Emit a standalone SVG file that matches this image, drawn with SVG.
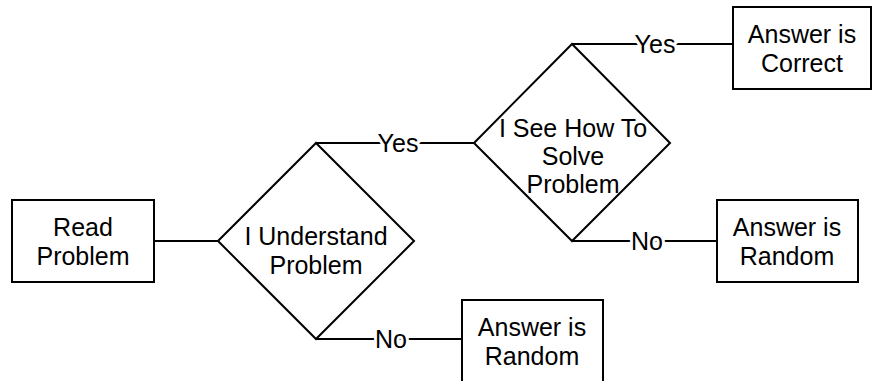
<svg xmlns="http://www.w3.org/2000/svg" width="873" height="381" viewBox="0 0 873 381">
<style>
.shape{fill:#fff;stroke:#000;stroke-width:2}
.conn{stroke:#000;stroke-width:2;fill:none}
text{font-family:"Liberation Sans",Arial,sans-serif;font-size:25px;fill:#000;text-anchor:middle}
.lbl{stroke:#fff;stroke-width:6;paint-order:stroke;stroke-linejoin:round}
</style>
<rect width="873" height="381" fill="#fff"/>
<g id="connectors">
<line class="conn" x1="154" y1="241" x2="218" y2="241"/>
<line class="conn" x1="316" y1="143" x2="474" y2="143"/>
<line class="conn" x1="572" y1="44" x2="733" y2="44"/>
<line class="conn" x1="572" y1="241" x2="717" y2="241"/>
<line class="conn" x1="316" y1="339" x2="462" y2="339"/>
<text class="lbl" x="398" y="152">Yes</text>
<text class="lbl" x="655" y="53">Yes</text>
<text class="lbl" x="647" y="250">No</text>
<text class="lbl" x="391" y="348">No</text>
</g>
<g id="read">
<rect class="shape" x="12" y="200" width="142" height="82"/>
<text x="83" y="236">Read</text>
<text x="83" y="265">Problem</text>
</g>
<g id="understand">
<polygon class="shape" points="218,241 316,143 414,241 316,339"/>
<text x="316" y="245">I Understand</text>
<text x="316" y="274">Problem</text>
</g>
<g id="seehow">
<polygon class="shape" points="474,143 572,44 670,143 572,241"/>
<text x="573" y="137">I See How To</text>
<text x="573" y="165">Solve</text>
<text x="573" y="193">Problem</text>
</g>
<g id="correct">
<rect class="shape" x="733" y="7" width="138" height="82"/>
<text x="802" y="43">Answer is</text>
<text x="802" y="72">Correct</text>
</g>
<g id="random1">
<rect class="shape" x="717" y="200" width="141" height="82"/>
<text x="787" y="236">Answer is</text>
<text x="787" y="265">Random</text>
</g>
<g id="random2">
<rect class="shape" x="462" y="300" width="141" height="84"/>
<text x="532" y="336">Answer is</text>
<text x="532" y="365">Random</text>
</g>
</svg>
